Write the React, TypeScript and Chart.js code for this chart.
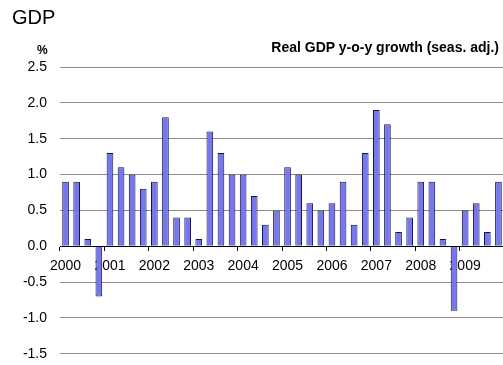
import React, { useEffect, useRef } from "react";
import { Chart, registerables } from "chart.js";

Chart.register(...registerables);

const quarters = [
  "2000 Q1", "2000 Q2", "2000 Q3", "2000 Q4",
  "2001 Q1", "2001 Q2", "2001 Q3", "2001 Q4",
  "2002 Q1", "2002 Q2", "2002 Q3", "2002 Q4",
  "2003 Q1", "2003 Q2", "2003 Q3", "2003 Q4",
  "2004 Q1", "2004 Q2", "2004 Q3", "2004 Q4",
  "2005 Q1", "2005 Q2", "2005 Q3", "2005 Q4",
  "2006 Q1", "2006 Q2", "2006 Q3", "2006 Q4",
  "2007 Q1", "2007 Q2", "2007 Q3", "2007 Q4",
  "2008 Q1", "2008 Q2", "2008 Q3", "2008 Q4",
  "2009 Q1", "2009 Q2", "2009 Q3", "2009 Q4",
];

const gdpGrowth = [
  0.9, 0.9, 0.1, -0.7,
  1.3, 1.1, 1.0, 0.8,
  0.9, 1.8, 0.4, 0.4,
  0.1, 1.6, 1.3, 1.0,
  1.0, 0.7, 0.3, 0.5,
  1.1, 1.0, 0.6, 0.5,
  0.6, 0.9, 0.3, 1.3,
  1.9, 1.7, 0.2, 0.4,
  0.9, 0.9, 0.1, -0.9,
  0.5, 0.6, 0.2, 0.9,
];

const yMin = -2.0;
const yMax = 2.5;
const yStep = 0.5;

const pageTitle = "GDP";
const chartTitle = "Real GDP y-o-y growth (seas. adj.)";
const unitLabel = "%";

const FONT = "'Liberation Sans', Arial, sans-serif";

export default function App() {
  const canvasRef = useRef<HTMLCanvasElement | null>(null);

  useEffect(() => {
    const canvas = canvasRef.current;
    if (!canvas) return;
    const chart = new Chart(canvas, {
      type: "bar",
      data: {
        labels: quarters,
        datasets: [
          {
            data: gdpGrowth,
            backgroundColor: "#7676EE",
            borderColor: "#14143c",
            borderWidth: 1,
            barPercentage: 0.6,
            categoryPercentage: 1.0,
          },
        ],
      },
      options: {
        animation: false,
        responsive: false,
        maintainAspectRatio: false,
        devicePixelRatio: 1,
        layout: { padding: { top: 67, bottom: 12, left: 0, right: 16 } },
        plugins: {
          legend: { display: false },
          title: { display: false },
          tooltip: { enabled: false },
        },
        scales: {
          x: {
            type: "category",
            position: { y: 0 } as any,
            offset: true,
            afterFit: (scale: any) => {
              scale.height = 0;
            },
            border: { display: true, color: "#000000", width: 1 },
            grid: {
              offset: true,
              drawOnChartArea: false,
              drawTicks: true,
              tickLength: 4,
              color: (ctx: any) => (ctx.index % 4 === 0 ? "#000000" : "rgba(0,0,0,0)"),
            },
            ticks: {
              autoSkip: false,
              maxRotation: 0,
              minRotation: 0,
              padding: 8,
              color: "#000000",
              font: { family: FONT, size: 14 },
              callback: (_v: any, i: number) => {
                const q = quarters[i];
                return q.endsWith("Q1") ? q.slice(0, 4) : "";
              },
            },
          },
          y: {
            min: yMin,
            max: yMax,
            afterFit: (scale: any) => {
              scale.width = 60;
            },
            border: { display: false },
            grid: {
              drawTicks: false,
              color: (ctx: any) =>
                ctx.tick && Math.abs(ctx.tick.value) < 1e-9 ? "rgba(0,0,0,0)" : "#8c8c8c",
              lineWidth: 1,
            },
            ticks: {
              stepSize: yStep,
              padding: 13,
              color: "#000000",
              font: { family: FONT, size: 14 },
              callback: (v: any) => Number(v).toFixed(1),
            },
          },
        },
      },
    });
    return () => chart.destroy();
  }, []);

  return (
    <div
      style={{
        position: "absolute",
        left: 0,
        top: 0,
        width: 503,
        height: 365,
        overflow: "hidden",
        background: "#ffffff",
        fontFamily: FONT,
      }}
    >
      <canvas
        ref={canvasRef}
        width={520}
        height={411}
        style={{ position: "absolute", left: 0, top: 0, width: 520, height: 411 }}
      />
      <div
        style={{
          position: "absolute",
          left: 12,
          top: 5,
          fontSize: 20,
          lineHeight: "24px",
          color: "#000",
          whiteSpace: "nowrap",
        }}
      >
        {pageTitle}
      </div>
      <div
        style={{
          position: "absolute",
          right: 4,
          top: 38,
          fontSize: 14,
          fontWeight: "bold",
          lineHeight: "18px",
          color: "#000",
          whiteSpace: "nowrap",
        }}
      >
        {chartTitle}
      </div>
      <div
        style={{
          position: "absolute",
          left: 37,
          top: 43,
          fontSize: 12,
          fontWeight: "bold",
          lineHeight: "14px",
          color: "#000",
          whiteSpace: "nowrap",
        }}
      >
        {unitLabel}
      </div>
    </div>
  );
}
